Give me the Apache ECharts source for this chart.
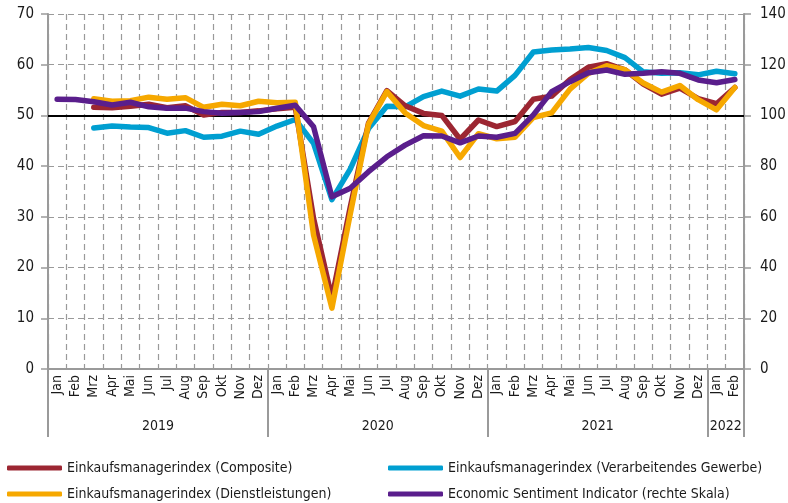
<!DOCTYPE html>
<html>
<head>
<meta charset="utf-8">
<script src="https://cdn.jsdelivr.net/npm/echarts@6/dist/echarts.min.js"></script>
<style>
  html, body { margin: 0; padding: 0; background: #fff; }
  #chart { width: 788px; height: 503px; }
</style>
</head>
<body>
<div id="chart"></div>
<script>
// month labels per category, Jan 2019 .. Feb 2022
const monthNames = ['Jan', 'Feb', 'Mrz', 'Apr', 'Mai', 'Jun', 'Jul', 'Aug', 'Sep', 'Okt', 'Nov', 'Dez'];
const years = ['2019', '2020', '2021', '2022'];
const categories = [];
years.forEach(function (y, yi) {
  const n = yi === 3 ? 2 : 12;
  for (let m = 0; m < n; m++) categories.push(monthNames[m] + ' ' + y);
});
// category index where each year label sits (shifted half a band left)
const yearLabelIdx = [6, 18, 30, 37];

const leftTicks = { min: 0, max: 70, step: 10 };
const rightTicks = { min: 0, max: 140, step: 20 };

const nameComposite = 'Einkaufsmanagerindex (Composite)';
const nameManufacturing = 'Einkaufsmanagerindex (Verarbeitendes Gewerbe)';
const nameServices = 'Einkaufsmanagerindex (Dienstleistungen)';
const nameEsi = 'Economic Sentiment Indicator (rechte Skala)';

const composite = ['-', '-', 51.6, 51.5, 51.8, 52.2, 51.5, 51.9, 50.1, 50.6, 50.6, 50.9,
  51.3, 51.6, 29.7, 14.0, 31.9, 48.5, 54.9, 51.9, 50.4, 50.0, 45.3, 49.1,
  47.8, 48.8, 53.2, 53.8, 57.1, 59.5, 60.2, 59.0, 56.2, 54.2, 55.4, 53.3,
  52.3, 55.5];
const manufacturing = ['-', '-', 47.5, 47.9, 47.7, 47.6, 46.5, 47.0, 45.7, 45.9, 46.9, 46.3,
  47.9, 49.2, 44.5, 33.4, 39.4, 47.4, 51.8, 51.7, 53.7, 54.8, 53.8, 55.2,
  54.8, 57.9, 62.5, 62.9, 63.1, 63.4, 62.8, 61.4, 58.6, 58.3, 58.4, 58.0,
  58.7, 58.2];
const services = ['-', '-', 53.3, 52.8, 52.9, 53.6, 53.2, 53.5, 51.6, 52.2, 51.9, 52.8,
  52.5, 52.6, 26.4, 12.0, 30.5, 48.3, 54.7, 50.5, 48.0, 46.9, 41.7, 46.4,
  45.4, 45.7, 49.6, 50.5, 55.2, 58.3, 59.8, 59.0, 56.4, 54.6, 55.9, 53.1,
  51.1, 55.5];
const esi = [106.4, 106.3, 105.4, 104.1, 105.2, 103.4, 102.8, 102.9, 101.5, 100.9, 101.2, 101.5,
  102.8, 104.0, 95.5, 67.9, 71.3, 77.8, 83.7, 88.3, 92.0, 91.9, 89.2, 91.9,
  91.4, 92.9, 100.2, 109.4, 113.3, 116.8, 117.9, 116.2, 116.6, 117.2, 116.6, 114.0,
  112.9, 114.2];
const refLevel = 50;

const FONT = "'Liberation Sans Narrow', 'DejaVu Sans Condensed', sans-serif";
const AXIS_GREY = '#9a9a9a';

const chart = echarts.init(document.getElementById('chart'));

function lineSeries(name, color, data, yIndex) {
  return {
    name: name,
    type: 'line',
    data: data,
    yAxisIndex: yIndex,
    showSymbol: false,
    symbol: 'none',
    connectNulls: false,
    animation: false,
    lineStyle: { color: color, width: 5.5, cap: 'round', join: 'round' },
    itemStyle: { color: color }
  };
}

function legendAt(name, left, top) {
  return {
    data: [name],
    left: left,
    top: top,
    padding: 0,
    icon: 'roundRect',
    itemWidth: 55,
    itemHeight: 5,
    selectedMode: false,
    textStyle: { fontFamily: FONT, fontSize: 14, color: '#1a1a1a' }
  };
}

const option = {
  animation: false,
  grid: { left: 48, right: 44, top: 14, bottom: 134, containLabel: false, outerBoundsMode: 'none' },
  legend: [
    legendAt(nameComposite, 7, 461),
    legendAt(nameManufacturing, 388, 461),
    legendAt(nameServices, 7, 487),
    legendAt(nameEsi, 388, 487)
  ],
  xAxis: [
    {
      type: 'category',
      data: categories,
      boundaryGap: true,
      axisLine: { show: true, lineStyle: { color: AXIS_GREY, width: 2 } },
      axisTick: { show: false },
      splitLine: { show: true, interval: 0, lineStyle: { color: AXIS_GREY, type: [6, 4], width: 1.2 } },
      axisLabel: {
        interval: 0,
        rotate: 90,
        margin: 6,
        fontFamily: FONT,
        fontSize: 14,
        color: '#1a1a1a',
        formatter: function (v) { return v.split(' ')[0]; }
      }
    },
    {
      type: 'category',
      data: categories,
      position: 'bottom',
      boundaryGap: true,
      axisLine: { show: false },
      axisTick: {
        show: true,
        length: 68,
        interval: function (i) { return i % 12 === 0; },
        lineStyle: { color: AXIS_GREY, width: 2 }
      },
      splitLine: { show: false },
      axisLabel: {
        interval: function (i) { return yearLabelIdx.indexOf(i) >= 0; },
        margin: 50,
        padding: [0, 18, 0, 0],
        fontFamily: FONT,
        fontSize: 14,
        color: '#1a1a1a',
        formatter: function (v) { return v.split(' ')[1]; }
      }
    }
  ],
  yAxis: [
    {
      type: 'value',
      min: leftTicks.min,
      max: leftTicks.max,
      interval: leftTicks.step,
      axisLine: { show: true, lineStyle: { color: AXIS_GREY, width: 2 } },
      axisTick: { show: true, length: 7, lineStyle: { color: AXIS_GREY, width: 1.5 } },
      splitLine: { show: true, lineStyle: { color: AXIS_GREY, type: [6, 4], width: 1.2 } },
      axisLabel: { margin: 14, fontFamily: FONT, fontSize: 15, color: '#1a1a1a' }
    },
    {
      type: 'value',
      position: 'right',
      min: rightTicks.min,
      max: rightTicks.max,
      interval: rightTicks.step,
      axisLine: { show: true, lineStyle: { color: AXIS_GREY, width: 2 } },
      axisTick: { show: true, length: 7, lineStyle: { color: AXIS_GREY, width: 1.5 } },
      splitLine: { show: false },
      axisLabel: { margin: 16, fontFamily: FONT, fontSize: 15, color: '#1a1a1a' }
    }
  ],
  series: [
    Object.assign(lineSeries(nameManufacturing, '#009fd1', manufacturing, 0), {
      markLine: {
        silent: true,
        symbol: 'none',
        label: { show: false },
        lineStyle: { color: '#000', type: 'solid', width: 2 },
        data: [{ yAxis: refLevel }],
        z: 1
      }
    }),
    lineSeries(nameComposite, '#9c2632', composite, 0),
    lineSeries(nameServices, '#f6a800', services, 0),
    lineSeries(nameEsi, '#5a1e8c', esi, 1)
  ]
};

chart.setOption(option);
</script>
</body>
</html>
